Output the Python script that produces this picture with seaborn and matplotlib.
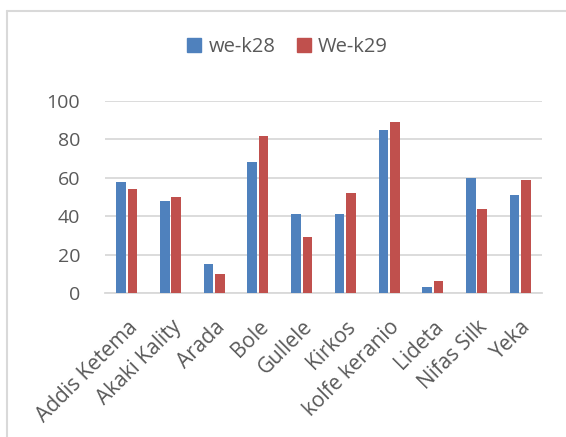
import matplotlib
matplotlib.use("Agg")
import matplotlib.pyplot as plt
import seaborn as sns
import pandas as pd
from matplotlib.lines import Line2D

categories = ["Addis Ketema", "Akaki Kality", "Arada", "Bole", "Gullele",
              "Kirkos", "kolfe keranio", "Lideta", "Nifas Silk", "Yeka"]
wek28 = [58, 48, 15, 68, 41, 41, 85, 3, 60, 51]
wek29 = [54, 50, 10, 82, 29, 52, 89, 6, 44, 59]
series_names = ["we-k28", "We-k29"]
yticks = [0, 20, 40, 60, 80, 100]

df = pd.DataFrame({
    "cat": categories * 2,
    "val": wek28 + wek29,
    "series": [series_names[0]] * len(categories) + [series_names[1]] * len(categories),
})

sns.set_theme(style="white")
plt.rcParams["font.family"] = ["Open Sans", "DejaVu Sans"]

fig = plt.figure(figsize=(5.66, 4.37), dpi=100)
ax = fig.add_axes([105 / 566, 1 - 293 / 437, 437 / 566, 192 / 437])

palette = {"we-k28": "#4F81BD", "We-k29": "#C0504D"}
sns.barplot(data=df, x="cat", y="val", hue="series", palette=palette,
            width=0.52, gap=0.15, ax=ax, saturation=1, edgecolor="none",
            legend=False, zorder=3)

ax.set_ylim(0, 100)
ax.set_xlim(-0.5, len(categories) - 0.5)
ax.set_yticks(yticks)
ax.set_yticklabels([str(t) for t in yticks], fontsize=14, color="#595959")
ax.set_xticks(range(len(categories)))
ax.set_xticklabels(categories, rotation=45, ha="right", rotation_mode="anchor",
                   fontsize=15, color="#595959")
ax.tick_params(axis="y", length=0, pad=18)
ax.tick_params(axis="x", length=0, pad=17)
ax.set_xlabel("")
ax.set_ylabel("")
ax.grid(axis="y", color="#D9D9D9", linewidth=1.3, zorder=0)
ax.set_axisbelow(True)
for s in ["top", "right", "left"]:
    ax.spines[s].set_visible(False)
ax.spines["bottom"].set_color("#D9D9D9")
ax.spines["bottom"].set_linewidth(1.3)

handles = [Line2D([0], [0], marker="s", linestyle="none", markersize=10,
                  markerfacecolor=palette[n], markeredgecolor=palette[n]) for n in series_names]
fig.legend(handles, series_names, loc="center", bbox_to_anchor=(287 / 566, 1 - 47 / 437),
           ncol=2, frameon=False, fontsize=14.5, labelcolor="#595959",
           handletextpad=0.3, columnspacing=1.0, handlelength=0.8)

# outer chart border (top and left)
fig.add_artist(Line2D([7 / 566, 1.0], [1 - 11 / 437, 1 - 11 / 437], color="#D9D9D9",
                      linewidth=1.5, transform=fig.transFigure))
fig.add_artist(Line2D([7 / 566, 7 / 566], [0, 1 - 11 / 437], color="#D9D9D9",
                      linewidth=1.5, transform=fig.transFigure))

fig.savefig("out.png", dpi=100)
